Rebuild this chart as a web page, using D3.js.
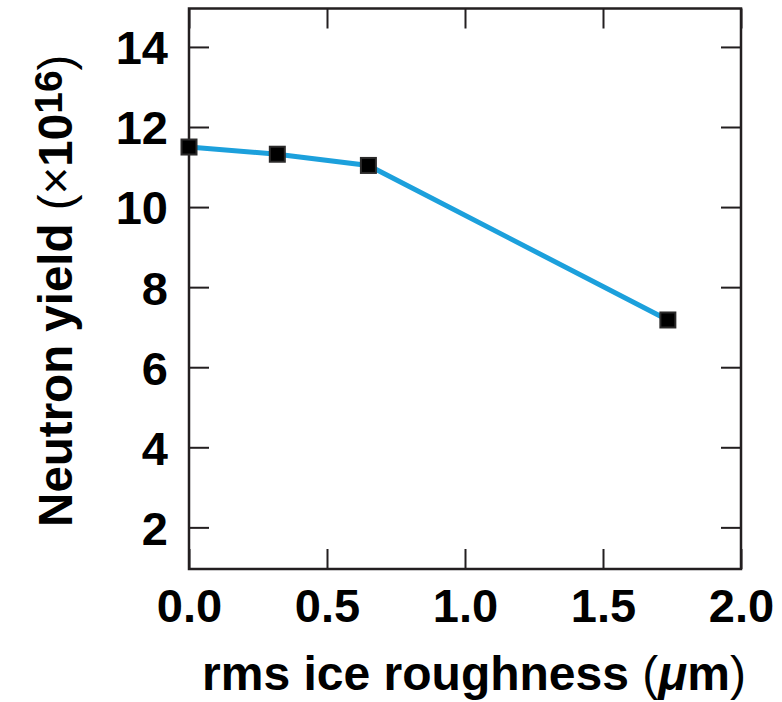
<!DOCTYPE html>
<html>
<head>
<meta charset="utf-8">
<script src="https://cdn.jsdelivr.net/npm/d3@7"></script>
<style>
  body { margin: 0; background: #fff; }
  text { font-family: 'Liberation Sans', Arial, Helvetica, sans-serif; fill: #000; }
</style>
</head>
<body>
<svg id="chart" width="782" height="702"></svg>
<script>
// Neutron yield vs. rms ice roughness
const roughness = [0.0, 0.32, 0.65, 1.735];
const yield_1e16 = [11.5, 11.32, 11.04, 7.18];
const x_ticks = [0, 0.5, 1.0, 1.5, 2.0];
const y_ticks = [2, 4, 6, 8, 10, 12, 14];

const width = 782;
const height = 702;
const margin = { top: 8.5, right: 41, bottom: 133, left: 189 };

const svg = d3.select('#chart');

const x = d3.scaleLinear()
  .domain([0, 2])
  .range([margin.left, width - margin.right]);

const y = d3.scaleLinear()
  .domain([0.96, 14.96])
  .range([height - margin.bottom, margin.top]);

const frame_color = '#231f20';
const tick_len = 20;
const tick_font = 47;

// ticks on all four sides, pointing inward
const x_axis_bottom = d3.axisBottom(x).tickValues(x_ticks).tickSizeInner(-tick_len).tickSizeOuter(0)
  .tickFormat(d3.format('.1f')).tickPadding(20);
const x_axis_top = d3.axisTop(x).tickValues(x_ticks).tickSizeInner(-tick_len).tickSizeOuter(0)
  .tickFormat('');
const y_axis_left = d3.axisLeft(y).tickValues(y_ticks).tickSizeInner(-tick_len).tickSizeOuter(0)
  .tickPadding(21);
const y_axis_right = d3.axisRight(y).tickValues(y_ticks).tickSizeInner(-tick_len).tickSizeOuter(0)
  .tickFormat('');

function styleAxis(g) {
  g.select('.domain').remove();
  g.selectAll('.tick line').attr('stroke', frame_color).attr('stroke-width', 2);
  g.selectAll('.tick text')
    .attr('font-size', tick_font)
    .attr('font-weight', 'bold')
    .attr('font-family', "'Liberation Sans', Arial, sans-serif")
    .attr('fill', '#000');
}

svg.append('g')
  .attr('transform', `translate(0,${y.range()[0]})`)
  .call(x_axis_bottom)
  .call(styleAxis);

svg.append('g')
  .attr('transform', `translate(0,${y.range()[1]})`)
  .call(x_axis_top)
  .call(styleAxis);

svg.append('g')
  .attr('transform', `translate(${x.range()[0]},0)`)
  .call(y_axis_left)
  .call(styleAxis)
  .selectAll('.tick text')
  .attr('dy', '0.36em');

svg.append('g')
  .attr('transform', `translate(${x.range()[1]},0)`)
  .call(y_axis_right)
  .call(styleAxis);

// plot frame
svg.append('rect')
  .attr('x', x.range()[0])
  .attr('y', y.range()[1])
  .attr('width', x.range()[1] - x.range()[0])
  .attr('height', y.range()[0] - y.range()[1])
  .attr('fill', 'none')
  .attr('stroke', frame_color)
  .attr('stroke-width', 2.5);

// data line
const points = roughness.map((r, i) => [r, yield_1e16[i]]);
const line = d3.line()
  .x(d => x(d[0]))
  .y(d => y(d[1]));

svg.append('path')
  .datum(points)
  .attr('d', line)
  .attr('fill', 'none')
  .attr('stroke', '#1ca0dc')
  .attr('stroke-width', 5);

// square markers
const marker_size = 15;
svg.selectAll('rect.marker')
  .data(points)
  .enter()
  .append('rect')
  .attr('class', 'marker')
  .attr('x', d => x(d[0]) - marker_size / 2)
  .attr('y', d => y(d[1]) - marker_size / 2)
  .attr('width', marker_size)
  .attr('height', marker_size)
  .attr('fill', '#000')
  .attr('stroke', '#2b2a2a')
  .attr('stroke-width', 2);

// x axis title
const x_title = svg.append('text')
  .attr('x', 474)
  .attr('y', 690)
  .attr('text-anchor', 'middle')
  .attr('font-size', 48)
  .attr('font-weight', 'bold');
x_title.append('tspan').text('rms ice roughness ');
x_title.append('tspan').attr('font-weight', 'normal').text('(');
x_title.append('tspan').attr('font-style', 'italic').text('\u03bc');
x_title.append('tspan').text('m');
x_title.append('tspan').attr('font-weight', 'normal').text(')');

// y axis title
const y_title = svg.append('text')
  .attr('transform', `translate(72,${(y.range()[0] + y.range()[1]) / 2 + 2}) rotate(-90)`)
  .attr('text-anchor', 'middle')
  .attr('font-size', 47.5)
  .attr('font-weight', 'bold');
y_title.append('tspan').text('Neutron yield ');
y_title.append('tspan').attr('font-weight', 'normal').text('(\u00d7');
y_title.append('tspan').text('10');
y_title.append('tspan').attr('font-size', 39).attr('dy', -10).text('16');
y_title.append('tspan').attr('font-weight', 'normal').attr('dy', 10).text(')');
</script>
</body>
</html>
